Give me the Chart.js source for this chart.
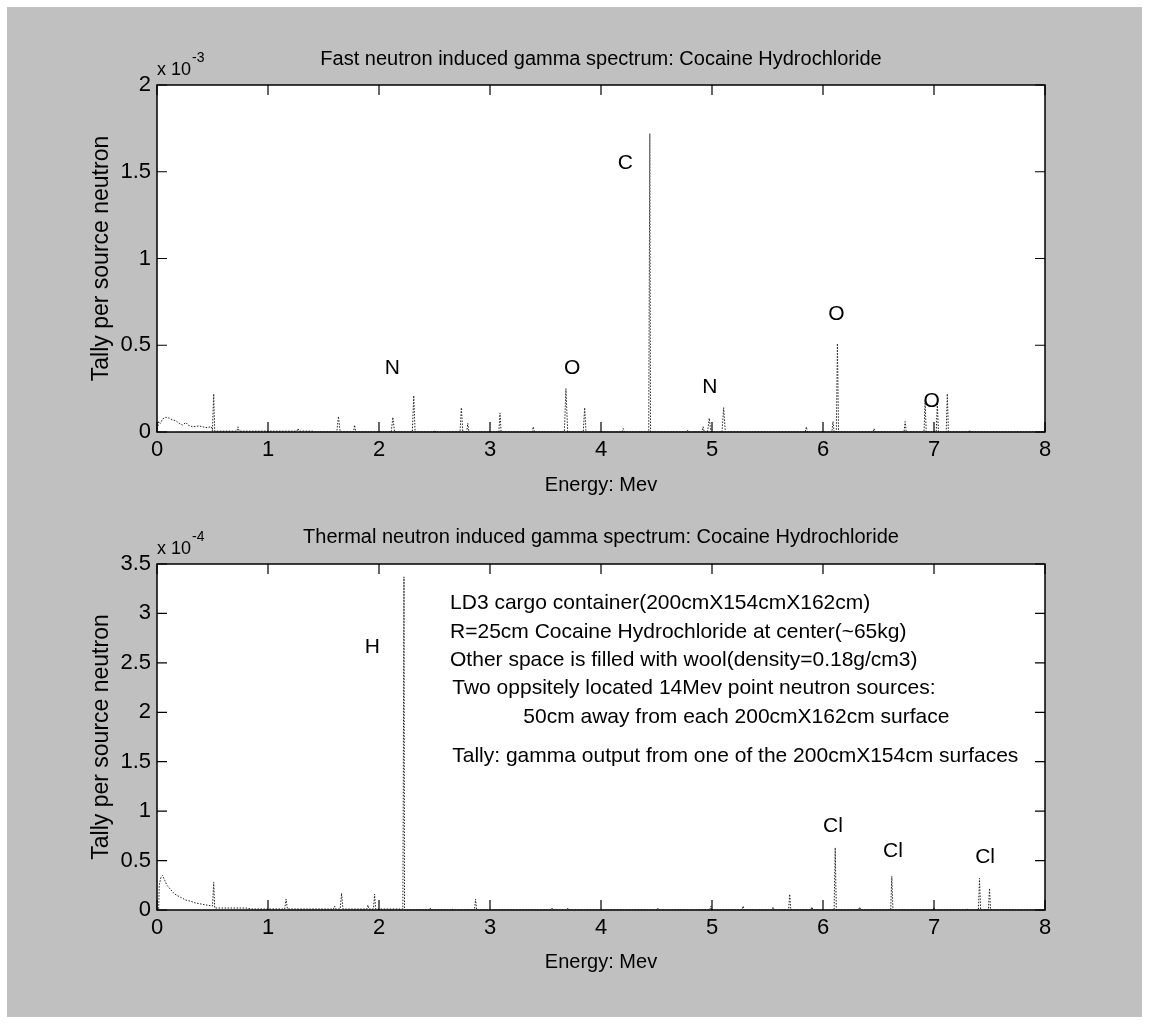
<!DOCTYPE html>
<html>
<head>
<meta charset="utf-8">
<script src="https://cdn.jsdelivr.net/npm/chart.js@4.4.0/dist/chart.umd.min.js"></script>
<style>
  html, body { margin: 0; padding: 0; background: #fff; }
  #page { position: relative; width: 1149px; height: 1024px; overflow: hidden; }
  #bg { position: absolute; left: 7px; top: 7px; width: 1135px; height: 1010px; background: #c0c0c0; }
  .box { position: absolute; left: 0; width: 1149px; height: 512px; }
</style>
</head>
<body>
<div id="page">
  <div id="bg"></div>
  <div class="box" style="top:0"><canvas id="fastChart" width="1149" height="512"></canvas></div>
  <div class="box" style="top:512px"><canvas id="thermalChart" width="1149" height="512"></canvas></div>
</div>
<script>
"use strict";

// energy ticks (MeV)
var energyTicks = [0, 1, 2, 3, 4, 5, 6, 7, 8];

// fast neutron induced spectrum, tally in units of 1e-3
var fastEnergy = [
  0.00, 0.015, 0.03, 0.05, 0.08, 0.11, 0.14, 0.17, 0.20, 0.23, 0.26, 0.28, 0.32, 0.38, 0.44, 0.49,
  0.50, 0.505, 0.511, 0.52, 0.72, 0.73, 0.74, 1.26, 1.27, 1.28, 1.40, 1.42,
  1.62, 1.635, 1.65, 1.77, 1.78, 1.79, 2.11, 2.125, 2.14, 2.30, 2.313, 2.325,
  2.49, 2.50, 2.51, 2.73, 2.742, 2.755, 2.79, 2.80, 2.81, 3.08, 3.09, 3.10,
  3.38, 3.39, 3.40, 3.67, 3.684, 3.70, 3.84, 3.853, 3.865, 4.19, 4.20, 4.21,
  4.43, 4.435, 4.44, 4.446, 4.77, 4.78, 4.79, 4.91, 4.92, 4.93, 4.96, 4.975, 4.99,
  5.09, 5.105, 5.12, 5.84, 5.85, 5.86, 6.08, 6.09, 6.10, 6.12, 6.13, 6.14,
  6.45, 6.46, 6.47, 6.73, 6.74, 6.75, 6.91, 6.92, 6.93, 7.02, 7.03, 7.04,
  7.11, 7.12, 7.13, 7.31, 7.32, 7.33, 8.00
];
var fastTally = [
  0, 0.06, 0.05, 0.075, 0.085, 0.08, 0.07, 0.065, 0.05, 0.04, 0.055, 0.04, 0.03, 0.035, 0.025, 0.03,
  0.005, 0.12, 0.22, 0.005, 0.005, 0.03, 0.005, 0.005, 0.02, 0.005, 0.005, 0,
  0, 0.09, 0, 0, 0.04, 0, 0, 0.085, 0, 0, 0.21, 0,
  0, 0.01, 0, 0, 0.14, 0, 0, 0.05, 0, 0, 0.11, 0,
  0, 0.03, 0, 0, 0.25, 0, 0, 0.14, 0, 0, 0.02, 0,
  0, 0.86, 1.72, 0, 0, 0.01, 0, 0, 0.03, 0, 0, 0.08, 0,
  0, 0.14, 0, 0, 0.03, 0, 0, 0.06, 0, 0, 0.51, 0,
  0, 0.02, 0, 0, 0.06, 0, 0, 0.18, 0, 0, 0.17, 0,
  0, 0.22, 0, 0, 0.01, 0, 0
];
var fastTicks = [0, 0.5, 1, 1.5, 2];
var fastLabels = ["N", "O", "C", "N", "O", "O"];
var fastLabelX = [2.12, 3.74, 4.22, 4.98, 6.12, 6.98];
var fastLabelY = [0.37, 0.37, 1.55, 0.26, 0.68, 0.18];

// thermal neutron induced spectrum, tally in units of 1e-4
var thermalEnergy = [
  0.00, 0.015, 0.02, 0.035, 0.05, 0.07, 0.09, 0.12, 0.16, 0.21, 0.26, 0.30, 0.35, 0.40, 0.45, 0.50,
  0.505, 0.511, 0.52, 0.80, 0.85, 1.15, 1.163, 1.175, 1.59, 1.60, 1.61, 1.65, 1.663, 1.675,
  1.89, 1.90, 1.91, 1.95, 1.96, 1.97, 2.215, 2.22, 2.225, 2.23,
  2.45, 2.46, 2.47, 2.65, 2.66, 2.67, 2.86, 2.87, 2.88, 3.55, 3.56, 3.57, 3.69, 3.70, 3.71,
  4.50, 4.51, 4.52, 4.98, 4.99, 5.00, 5.27, 5.28, 5.29, 5.54, 5.55, 5.56, 5.69, 5.70, 5.71,
  5.89, 5.90, 5.91, 6.10, 6.11, 6.12, 6.32, 6.33, 6.34, 6.61, 6.62, 6.63,
  6.99, 7.00, 7.01, 7.29, 7.30, 7.31, 7.40, 7.41, 7.42, 7.49, 7.50, 7.51, 8.00
];
var thermalTally = [
  0, 0, 0.25, 0.33, 0.35, 0.30, 0.25, 0.21, 0.16, 0.13, 0.10, 0.09, 0.07, 0.06, 0.05, 0.04,
  0.15, 0.28, 0.02, 0.02, 0.01, 0.01, 0.11, 0.01, 0.01, 0.04, 0.01, 0.01, 0.17, 0.01,
  0.01, 0.05, 0.01, 0.01, 0.16, 0.01, 0.01, 1.67, 3.37, 0,
  0, 0.02, 0, 0, 0.01, 0, 0, 0.11, 0, 0, 0.02, 0, 0, 0.02, 0,
  0, 0.02, 0, 0, 0.04, 0, 0, 0.04, 0, 0, 0.03, 0, 0, 0.16, 0,
  0, 0.03, 0, 0, 0.63, 0, 0, 0.03, 0, 0, 0.34, 0,
  0, 0.02, 0, 0, 0.01, 0, 0, 0.32, 0, 0, 0.22, 0, 0
];
var thermalTicks = [0, 0.5, 1, 1.5, 2, 2.5, 3, 3.5];
var thermalLabels = ["H", "Cl", "Cl", "Cl"];
var thermalLabelX = [1.94, 6.09, 6.63, 7.46];
var thermalLabelY = [2.66, 0.85, 0.59, 0.53];

// setup note in the thermal plot
var noteLines = [
  "LD3 cargo container(200cmX154cmX162cm)",
  "R=25cm Cocaine Hydrochloride at center(~65kg)",
  "Other space is filled with wool(density=0.18g/cm3)",
  "Two oppsitely located 14Mev point neutron sources:",
  "50cm away from each 200cmX162cm surface",
  "Tally: gamma output from one of the 200cmX154cm surfaces"
];
var noteX = [2.64, 2.64, 2.64, 2.66, 3.30, 2.66];
var noteY = [3.10, 2.81, 2.53, 2.24, 1.95, 1.56];

var fontFam = '"Liberation Sans", Arial, Helvetica, sans-serif';
Chart.defaults.font.family = fontFam;
Chart.defaults.color = '#000';

function toPoints(xs, ys) {
  var pts = [];
  for (var i = 0; i < xs.length; i++) {
    pts.push({ x: xs[i], y: ys[i] });
  }
  return pts;
}

// white axes box, inward ticks, text annotations (matlab look)
function matlabAxes(cfg) {
  return {
    id: 'matlabAxes',
    beforeDraw: function (chart) {
      var a = chart.chartArea, ctx = chart.ctx;
      ctx.save();
      ctx.fillStyle = '#fff';
      ctx.fillRect(a.left, a.top, a.right - a.left, a.bottom - a.top);
      ctx.restore();
    },
    afterDraw: function (chart) {
      var a = chart.chartArea, ctx = chart.ctx;
      var xs = chart.scales.x, ys = chart.scales.y;
      ctx.save();
      ctx.strokeStyle = '#000';
      ctx.lineWidth = 1.5;
      ctx.strokeRect(a.left, a.top, a.right - a.left, a.bottom - a.top);
      ctx.lineWidth = 1.2;
      ctx.beginPath();
      xs.ticks.forEach(function (t) {
        var px = xs.getPixelForValue(t.value);
        ctx.moveTo(px, a.bottom); ctx.lineTo(px, a.bottom - 10);
        ctx.moveTo(px, a.top); ctx.lineTo(px, a.top + 10);
      });
      ys.ticks.forEach(function (t) {
        var py = ys.getPixelForValue(t.value);
        ctx.moveTo(a.left, py); ctx.lineTo(a.left + 10, py);
        ctx.moveTo(a.right, py); ctx.lineTo(a.right - 10, py);
      });
      ctx.stroke();

      ctx.fillStyle = '#000';
      ctx.textBaseline = 'middle';
      ctx.font = '21px ' + fontFam;
      ctx.textAlign = 'center';
      cfg.labels.forEach(function (s, i) {
        ctx.fillText(s, xs.getPixelForValue(cfg.labelX[i]), ys.getPixelForValue(cfg.labelY[i]));
      });
      if (cfg.notes) {
        ctx.font = '21px ' + fontFam;
        ctx.textAlign = 'left';
        cfg.notes.forEach(function (s, i) {
          ctx.fillText(s, xs.getPixelForValue(cfg.noteX[i]), ys.getPixelForValue(cfg.noteY[i]));
        });
      }

      // exponent label above the y axis
      ctx.textAlign = 'left';
      ctx.textBaseline = 'alphabetic';
      ctx.font = '18px ' + fontFam;
      ctx.fillText('x 10', a.left, a.top - 10);
      var w = ctx.measureText('x 10').width;
      ctx.font = '14px ' + fontFam;
      ctx.fillText(cfg.exponent, a.left + w + 1, a.top - 23);
      ctx.restore();
    }
  };
}

function makeChart(id, cfg) {
  var ctx = document.getElementById(id).getContext('2d');
  return new Chart(ctx, {
    type: 'line',
    data: {
      datasets: [{
        data: toPoints(cfg.energy, cfg.tally),
        borderColor: '#222',
        borderWidth: 1,
        borderDash: [1.5, 1.5],
        pointRadius: 0,
        tension: 0,
        fill: false
      }]
    },
    options: {
      responsive: false,
      animation: false,
      devicePixelRatio: 1,
      events: [],
      layout: { padding: { left: 0, right: 104, top: 0, bottom: 0 } },
      plugins: {
        legend: { display: false },
        tooltip: { enabled: false },
        title: {
          display: true,
          text: cfg.title,
          fullSize: false,
          color: '#000',
          font: { size: 20, weight: 'normal' },
          padding: { top: cfg.titleTop, bottom: cfg.titleBottom }
        }
      },
      scales: {
        x: {
          type: 'linear',
          min: 0,
          max: 8,
          afterBuildTicks: function (s) { s.ticks = energyTicks.map(function (v) { return { value: v }; }); },
          ticks: { font: { size: 22 }, padding: 5, maxRotation: 0, callback: function (v) { return String(v); } },
          grid: { display: false, drawTicks: false },
          border: { display: false },
          title: {
            display: true,
            text: 'Energy: Mev',
            font: { size: 20 },
            padding: { top: 0, bottom: cfg.xTitlePad }
          },
          afterFit: function (s) { s.height = cfg.xHeight; }
        },
        y: {
          type: 'linear',
          min: 0,
          max: cfg.yMax,
          afterBuildTicks: function (s) { s.ticks = cfg.yTicks.map(function (v) { return { value: v }; }); },
          ticks: { font: { size: 22 }, padding: 6, callback: function (v) { return String(v); } },
          grid: { display: false, drawTicks: false },
          border: { display: false },
          title: {
            display: true,
            text: 'Tally per source neutron',
            font: { size: 23 },
            padding: { top: 88, bottom: 0 }
          },
          afterFit: function (s) { s.width = 157; }
        }
      }
    },
    plugins: [matlabAxes(cfg)]
  });
}

makeChart('fastChart', {
  energy: fastEnergy,
  tally: fastTally,
  yMax: 2,
  yTicks: fastTicks,
  title: 'Fast neutron induced gamma spectrum: Cocaine Hydrochloride',
  titleTop: 47,
  titleBottom: 14,
  xTitlePad: 15,
  xHeight: 80,
  exponent: '-3',
  labels: fastLabels,
  labelX: fastLabelX,
  labelY: fastLabelY
});

makeChart('thermalChart', {
  energy: thermalEnergy,
  tally: thermalTally,
  yMax: 3.5,
  yTicks: thermalTicks,
  title: 'Thermal neutron induced gamma spectrum: Cocaine Hydrochloride',
  titleTop: 13,
  titleBottom: 15,
  xTitlePad: 50,
  xHeight: 114,
  exponent: '-4',
  labels: thermalLabels,
  labelX: thermalLabelX,
  labelY: thermalLabelY,
  notes: noteLines,
  noteX: noteX,
  noteY: noteY
});
</script>
</body>
</html>
